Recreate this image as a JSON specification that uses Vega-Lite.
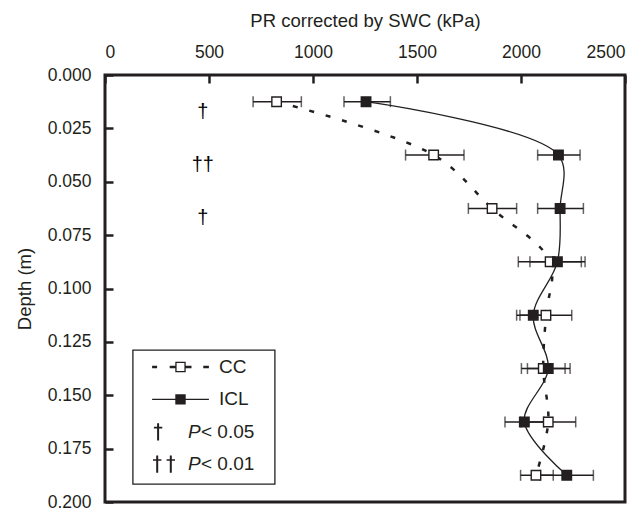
{
  "$schema": "https://vega.github.io/schema/vega-lite/v6.json",
  "autosize": {"type": "none"},
  "padding": {"left": 105, "top": 75, "right": 19, "bottom": 6},
  "width": 520,
  "height": 427,
  "background": "white",
  "config": {
    "view": {"stroke": "#231f20", "strokeWidth": 3},
    "font": "Liberation Sans",
    "axis": {"labelFont": "Liberation Sans", "titleFont": "Liberation Sans", "labelColor": "#231f20", "titleColor": "#231f20", "tickColor": "#231f20", "grid": false, "domain": false, "titleFontWeight": "normal"},
    "legend": {"strokeWidth": 1.3}
  },
  "datasets": {
    "pr": [
      {"series": "CC", "depth": 0.0125, "pr": 825, "lo": 712, "hi": 944},
      {"series": "CC", "depth": 0.0375, "pr": 1580, "lo": 1445, "hi": 1726},
      {"series": "CC", "depth": 0.0625, "pr": 1861, "lo": 1747, "hi": 1979},
      {"series": "CC", "depth": 0.0875, "pr": 2140, "lo": 1987, "hi": 2290},
      {"series": "CC", "depth": 0.1125, "pr": 2120, "lo": 1995, "hi": 2244},
      {"series": "CC", "depth": 0.1375, "pr": 2107, "lo": 2002, "hi": 2212},
      {"series": "CC", "depth": 0.1625, "pr": 2131, "lo": 1999, "hi": 2263},
      {"series": "CC", "depth": 0.1875, "pr": 2072, "lo": 1998, "hi": 2155},
      {"series": "ICL", "depth": 0.0125, "pr": 1255, "lo": 1149, "hi": 1372},
      {"series": "ICL", "depth": 0.0375, "pr": 2180, "lo": 2080, "hi": 2284},
      {"series": "ICL", "depth": 0.0625, "pr": 2188, "lo": 2080, "hi": 2300},
      {"series": "ICL", "depth": 0.0875, "pr": 2175, "lo": 2043, "hi": 2308},
      {"series": "ICL", "depth": 0.1125, "pr": 2059, "lo": 1979, "hi": 2140},
      {"series": "ICL", "depth": 0.1375, "pr": 2131, "lo": 2031, "hi": 2236},
      {"series": "ICL", "depth": 0.1625, "pr": 2016, "lo": 1923, "hi": 2110},
      {"series": "ICL", "depth": 0.1875, "pr": 2220, "lo": 2092, "hi": 2348}
    ],
    "sig": [
      {"depth": 0.0125, "mark": "†"},
      {"depth": 0.0375, "mark": "††"},
      {"depth": 0.0625, "mark": "†"}
    ]
  },
  "data": {"name": "pr"},
  "resolve": {"scale": {"shape": "independent"}},
  "encoding": {
    "y": {
      "field": "depth", "type": "quantitative",
      "scale": {"domain": [0, 0.2], "reverse": true, "nice": false, "zero": false},
      "axis": {"title": "Depth (m)", "values": [0, 0.025, 0.05, 0.075, 0.1, 0.125, 0.15, 0.175, 0.2], "format": ".3f", "labelFontSize": 17.5, "titleFontSize": 18.5, "tickSize": -8, "tickWidth": 2.5, "labelPadding": 22, "titlePadding": 13}
    }
  },
  "layer": [
    {
      "transform": [{"filter": "datum.series == 'CC'"}],
      "mark": {"type": "line", "interpolate": "catmull-rom", "color": "#231f20", "strokeWidth": 2.5, "strokeDash": [5, 12]},
      "encoding": {
        "x": {"field": "pr", "type": "quantitative", "scale": {"domain": [0, 2500], "nice": false, "zero": false},
          "axis": {"orient": "top", "title": "PR corrected by SWC (kPa)", "values": [0, 500, 1000, 1500, 2000, 2500], "format": "d", "labelFontSize": 17.5, "titleFontSize": 18.5, "tickSize": -8, "tickWidth": 2.5, "labelPadding": 22, "titlePadding": 13}},
        "order": {"field": "depth", "type": "quantitative"}
      }
    },
    {
      "transform": [{"filter": "datum.series == 'ICL'"}],
      "mark": {"type": "line", "interpolate": "catmull-rom", "color": "#231f20", "strokeWidth": 1.3},
      "encoding": {
        "x": {"field": "pr", "type": "quantitative"},
        "order": {"field": "depth", "type": "quantitative"}
      }
    },
    {
      "mark": {"type": "rule", "color": "#231f20", "strokeWidth": 1.4},
      "encoding": {"x": {"field": "lo", "type": "quantitative"}, "x2": {"field": "hi"}}
    },
    {
      "mark": {"type": "tick", "orient": "vertical", "color": "#231f20", "size": 11, "thickness": 1.5},
      "encoding": {"x": {"field": "lo", "type": "quantitative"}}
    },
    {
      "mark": {"type": "tick", "orient": "vertical", "color": "#231f20", "size": 11, "thickness": 1.5},
      "encoding": {"x": {"field": "hi", "type": "quantitative"}}
    },
    {
      "transform": [{"filter": "datum.series == 'CC'"}],
      "mark": {"type": "point", "shape": "square", "filled": true, "fill": "white", "stroke": "#231f20", "strokeWidth": 1.4, "size": 90, "opacity": 1},
      "encoding": {"x": {"field": "pr", "type": "quantitative"}}
    },
    {
      "transform": [{"filter": "datum.series == 'ICL'"}],
      "mark": {"type": "point", "shape": "square", "filled": true, "fill": "#231f20", "stroke": "#231f20", "strokeWidth": 1.4, "size": 90, "opacity": 1},
      "encoding": {"x": {"field": "pr", "type": "quantitative"}}
    },
    {
      "data": {"name": "sig"},
      "mark": {"type": "text", "font": "Liberation Sans", "fontSize": 20, "fill": "black", "baseline": "middle", "dy": 10},
      "encoding": {"x": {"datum": 470}, "text": {"field": "mark"}}
    },
    {
      "transform": [{"filter": "datum.depth < 0"}],
      "mark": {"type": "point", "filled": true, "color": "#231f20", "opacity": 1},
      "encoding": {
        "x": {"field": "pr", "type": "quantitative"},
        "shape": {
          "field": "series", "type": "nominal",
          "scale": {"domain": ["CC", "ICL", "s05", "s01"], "range": [
            "M-14.2,-0.6H-11.7V0.6H-14.2Z M-5.4,-0.6H-2.5V0.6H-5.4Z M2.5,-0.6H5.5V0.6H2.5Z M11.4,-0.6H14.2V0.6H11.4Z M-2.6,-2.6H2.6V2.6H-2.6Z M-1.95,-1.95V1.95H1.95V-1.95Z M0,-4.5M0,4.5",
            "M-14.2,-0.3H14.2V0.3H-14.2Z M-2.6,-2.6H2.6V2.6H-2.6Z M0,-4.5M0,4.5",
            "M-11.7,-4.3H-10.7V4.3H-11.7Z M-13.3,-2.5H-9.1V-1.7H-13.3Z M0,-4.5M0,4.5",
            "M-12.15,-4.3H-11.15V4.3H-12.15Z M-13.75,-2.5H-9.55V-1.7H-13.75Z M-5.35,-4.3H-4.35V4.3H-5.35Z M-6.95,-2.5H-2.75V-1.7H-6.95Z M0,-4.5M0,4.5"
          ]},
          "legend": {"title": ".", "titleOrient": "right", "titleOpacity": 0, "titleFontSize": 10, "titlePadding": 15.7, "orient": "none", "legendX": 27.7, "legendY": 275, "strokeColor": "#231f20", "fillColor": "white", "padding": 7.5, "symbolSize": 16, "symbolStrokeWidth": 1.5, "symbolStrokeColor": "transparent", "symbolFillColor": "#231f20", "symbolOffset": 30.8, "labelOffset": 29, "rowPadding": 7.4, "labelFont": "Liberation Sans", "labelFontSize": 19, "labelColor": "#231f20",
            "labelExpr": "datum.value == 'CC' ? 'CC' : datum.value == 'ICL' ? 'ICL' : ''"}
        }
      }
    },
    {
      "transform": [{"filter": "datum.depth < 0"}],
      "mark": {"type": "point", "filled": false, "opacity": 1},
      "encoding": {
        "x": {"field": "pr", "type": "quantitative"},
        "shape": {
          "field": "pvar", "type": "nominal",
          "scale": {"domain": ["s05", "s01"], "range": ["M0,-4.5M0,4.5", "M0,-4.5M0,4.5"]},
          "legend": {"title": null, "orient": "none", "legendX": 27.7, "legendY": 338, "padding": 9, "symbolSize": 16, "symbolStrokeWidth": 1.5, "symbolOpacity": 0, "symbolOffset": 0, "labelOffset": 27.3, "rowPadding": 12.5, "labelFont": "Liberation Sans", "labelFontSize": 19, "labelFontStyle": "italic", "labelColor": "#231f20",
            "labelExpr": "'P'"}
        }
      }
    },
    {
      "transform": [{"filter": "datum.depth < 0"}],
      "mark": {"type": "point", "filled": false, "opacity": 1},
      "encoding": {
        "x": {"field": "pr", "type": "quantitative"},
        "shape": {
          "field": "pval", "type": "nominal",
          "scale": {"domain": ["s05", "s01"], "range": ["M0,-4.5M0,4.5", "M0,-4.5M0,4.5"]},
          "legend": {"title": null, "orient": "none", "legendX": 27.7, "legendY": 338, "padding": 9, "symbolSize": 16, "symbolStrokeWidth": 1.5, "symbolOpacity": 0, "symbolOffset": 0, "labelOffset": 40.3, "rowPadding": 12.5, "labelFont": "Liberation Sans", "labelFontSize": 19, "labelColor": "#231f20",
            "labelExpr": "datum.value == 's05' ? '< 0.05' : '< 0.01'"}
        }
      }
    }
  ]
}
